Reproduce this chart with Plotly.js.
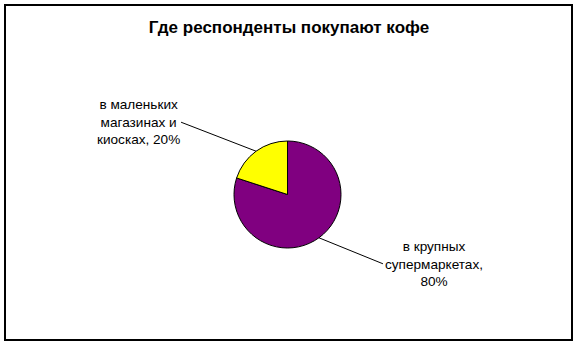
<!DOCTYPE html>
<html>
<head>
<meta charset="utf-8">
<script src="https://cdn.plot.ly/plotly-3.0.1.min.js"></script>
<style>html,body{margin:0;padding:0;background:#fff;}#chart{width:578px;height:346px;}</style>
</head>
<body>
<div id="chart"></div>
<script>
const categories = ["в крупных<br>супермаркетах,<br>80%", "в маленьких<br>магазинах и<br>киосках, 20%"];
const values = [80, 20];
const colors = ["#800080", "#FFFF00"];
const chartTitle = "Где респонденты покупают кофе";

const W = 578, H = 346;
const cxPx = 287.5, cyPx = 194.5, rPx = 53.5;
const domX = [(cxPx - rPx) / W, (cxPx + rPx) / W];
const domY = [1 - (cyPx + rPx) / H, 1 - (cyPx - rPx) / H];

// mid angles of slices (clockwise from 12 o'clock)
const total = values.reduce((a, b) => a + b, 0);
let acc = 0;
const mids = values.map(v => { const m = (acc + v / 2) / total * 2 * Math.PI; acc += v; return m; });
const tips = mids.map(a => ({ x: (cxPx + rPx * Math.sin(a)) / W, y: 1 - (cyPx - rPx * Math.cos(a)) / H }));

const font = { family: "Liberation Sans, Arial, sans-serif", size: 13.6, color: "#000" };

const annotations = [
  { x: tips[0].x, y: tips[0].y, xref: "paper", yref: "paper", text: categories[0],
    showarrow: true, arrowhead: 0, arrowwidth: 1, arrowcolor: "#000", ax: 64, ay: 26,
    xanchor: "left", yanchor: "middle", align: "center", font: font, borderpad: 1 },
  { x: tips[1].x, y: tips[1].y, xref: "paper", yref: "paper", text: categories[1],
    showarrow: true, arrowhead: 0, arrowwidth: 1, arrowcolor: "#000", ax: -75, ay: -29,
    xanchor: "right", yanchor: "middle", align: "center", font: font, borderpad: 0 }
];

const data = [{
  type: "pie",
  values: values,
  labels: categories,
  sort: false,
  direction: "clockwise",
  rotation: 0,
  textinfo: "none",
  textposition: "none",
  hoverinfo: "skip",
  marker: { colors: colors, line: { color: "#000", width: 1 } },
  domain: { x: domX, y: domY },
  showlegend: false
}];

const layout = {
  width: W, height: H,
  margin: { l: 0, r: 0, t: 0, b: 0 },
  paper_bgcolor: "#fff",
  title: { text: "<b>" + chartTitle + "</b>", x: 0.5, xanchor: "center", y: 1 - 27 / H, yanchor: "middle",
           font: { family: "Liberation Sans, Arial, sans-serif", size: 17, color: "#000" } },
  annotations: annotations,
  shapes: [{ type: "rect", xref: "paper", yref: "paper",
             x0: 5 / W, x1: 572 / W, y0: 1 - 340 / H, y1: 1 - 5 / H,
             line: { color: "#000", width: 2 }, fillcolor: "rgba(0,0,0,0)" }]
};

Plotly.newPlot("chart", data, layout, { staticPlot: true, displayModeBar: false });
</script>
</body>
</html>
